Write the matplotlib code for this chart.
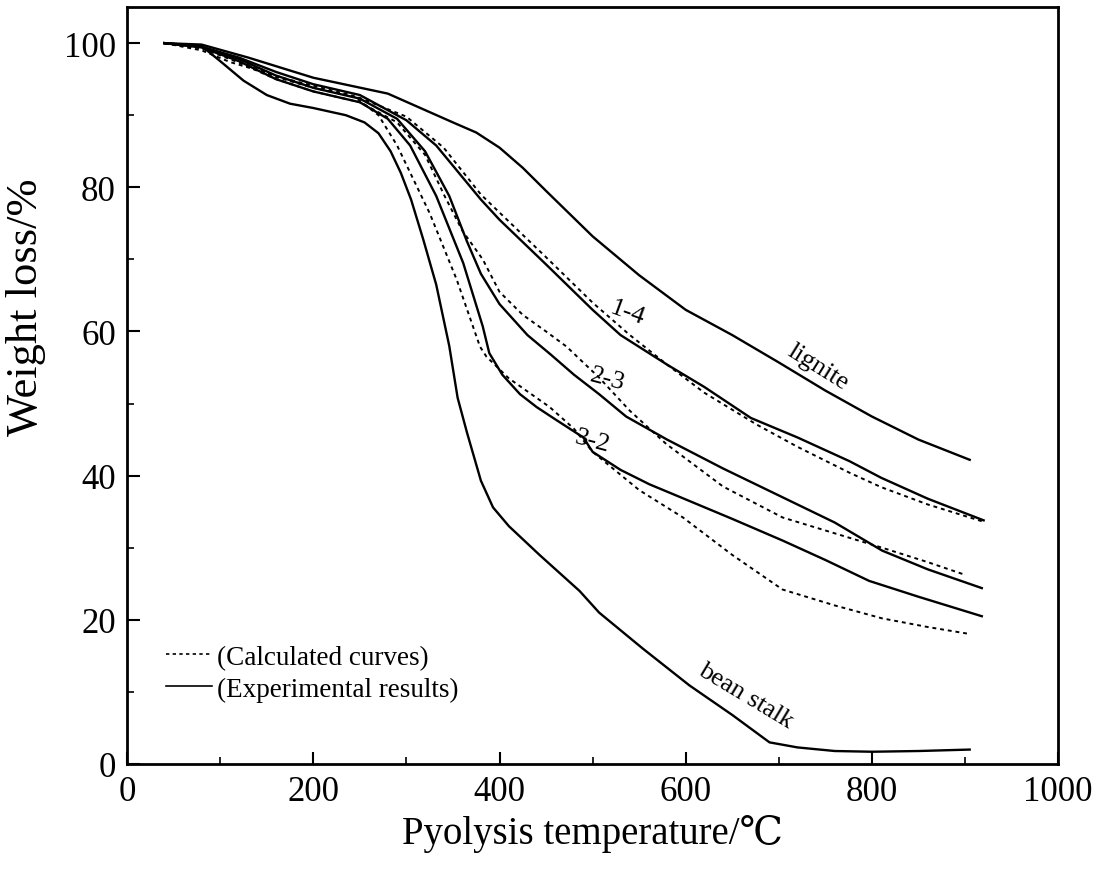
import numpy as np
import matplotlib
matplotlib.use('Agg')
import matplotlib.pyplot as plt
from matplotlib.lines import Line2D
from matplotlib.ticker import MultipleLocator

plt.rcParams['font.family'] = ['Liberation Serif', 'DejaVu Serif', 'DejaVu Sans']

# experimental (solid)
lignite_x = [40, 80, 130, 200, 280, 350, 375, 400, 425, 450, 500, 550, 600, 650, 700, 750, 800, 850, 905]
lignite_y = [100, 99.8, 98, 95.2, 93, 89, 87.6, 85.5, 82.7, 79.5, 73.2, 67.8, 63, 59.5, 55.7, 51.8, 48.2, 45, 42.2]

m14_x = [40, 80, 120, 160, 200, 250, 300, 332, 380, 400, 450, 500, 530, 580, 620, 670, 720, 776, 810, 860, 920]
m14_y = [100, 99.5, 98, 96, 94.3, 92.8, 89.3, 85.8, 78.3, 75.5, 69.3, 63, 59.5, 55.4, 52.3, 48, 45.3, 42, 39.7, 36.8, 33.8]

m23_x = [40, 80, 120, 160, 200, 250, 290, 320, 346, 365, 380, 400, 430, 455, 480, 507, 536, 580, 640, 704, 760, 811, 860, 918]
m23_y = [100, 99.5, 97.8, 95.5, 93.8, 92.3, 89.5, 85, 78.8, 72.5, 68, 63.8, 59.5, 56.8, 54, 51.3, 48.2, 45, 41, 37, 33.5, 29.6, 27, 24.4]

m32_x = [40, 80, 120, 160, 200, 250, 280, 304, 332, 361, 382, 389, 403, 422, 440, 460, 490, 500, 530, 561, 600, 650, 704, 750, 797, 850, 918]
m32_y = [100, 99.4, 97.5, 95, 93.3, 91.8, 89.5, 85.8, 78.8, 69.5, 60.7, 57, 54, 51.3, 49.5, 47.8, 45.3, 43.3, 40.8, 38.8, 36.7, 34, 31, 28.3, 25.4, 23.2, 20.5]

bean_x = [40, 80, 100, 125, 150, 175, 200, 235, 255, 270, 283, 294, 305, 318, 332, 346, 355, 365, 380, 393, 410, 443, 486, 507, 554, 604, 650, 690, 720, 760, 800, 850, 905]
bean_y = [100, 99.6, 97.5, 94.8, 92.8, 91.6, 91, 90, 89, 87.5, 85, 82, 78.3, 72.8, 66.5, 58, 50.8, 46, 39.3, 35.6, 33, 29, 24, 21, 16, 10.9, 6.8, 3, 2.3, 1.8, 1.7, 1.8, 2]

# calculated (dashed)
c14_x = [40, 80, 120, 160, 200, 250, 300, 340, 380, 400, 450, 500, 540, 580, 620, 676, 720, 776, 810, 860, 920]
c14_y = [100, 99.3, 97.5, 95.3, 93.8, 92.4, 89.8, 85.5, 79, 76.5, 70.3, 64, 59.5, 55.4, 51.5, 47.1, 44, 40.4, 38.4, 36, 33.6]

c23_x = [40, 80, 120, 160, 200, 250, 290, 320, 341, 360, 382, 400, 425, 450, 472, 507, 540, 579, 640, 704, 760, 811, 860, 901]
c23_y = [100, 99.3, 97.3, 95, 93.3, 91.8, 89, 84.5, 78.8, 74, 70, 65.5, 62.3, 60, 57.9, 53.6, 49, 44.4, 38.5, 34.2, 32, 30, 28, 26.2]

c32_x = [40, 80, 110, 172, 243, 270, 290, 325, 354, 379, 386, 410, 454, 480, 500, 550, 597, 650, 704, 760, 811, 860, 902]
c32_y = [100, 99, 97.4, 95, 92.7, 90, 85.8, 76.4, 67.2, 57.9, 56.5, 53.5, 49.5, 46.5, 43.3, 38, 34.2, 29, 24.2, 22, 20.2, 19, 18.1]

fig = plt.figure(figsize=(11.15, 8.7), dpi=100)
ax = fig.add_axes([0.114, 0.1207, 0.835, 0.87])

for xs, ys in [(lignite_x, lignite_y), (m14_x, m14_y), (m23_x, m23_y),
               (m32_x, m32_y), (bean_x, bean_y)]:
    ax.plot(xs, ys, color='black', lw=1.7)

for xs, ys in [(c14_x, c14_y), (c23_x, c23_y), (c32_x, c32_y)]:
    ax.plot(xs, ys, color='black', lw=1.4, dashes=(2, 2))

# curve labels
ax.text(537, 62.6, '1-4', fontsize=19, rotation=-20, ha='center', va='center')
ax.text(516, 53.4, '2-3', fontsize=19, rotation=-15, ha='center', va='center')
ax.text(500, 44.8, '3-2', fontsize=19, rotation=-15, ha='center', va='center')
ax.text(742, 55.2, 'lignite', fontsize=19, rotation=-32, ha='center', va='center')
ax.text(664, 9.6, 'bean stalk', fontsize=19, rotation=-31, ha='center', va='center')

handles = [Line2D([], [], color='black', lw=1.2, dashes=(2, 2)),
           Line2D([], [], color='black', lw=1.2)]
ax.legend(handles, ['(Calculated curves)', '(Experimental results)'],
          loc='lower left', bbox_to_anchor=(0.03, 0.068), frameon=False,
          fontsize=19.5, handlelength=1.7, handletextpad=0.2, labelspacing=0.25,
          borderaxespad=0)

ax.set_xlim(0, 1000)
ax.set_ylim(0, 105)
ax.xaxis.set_major_locator(MultipleLocator(200))
ax.xaxis.set_minor_locator(MultipleLocator(100))
ax.yaxis.set_major_locator(MultipleLocator(20))
ax.yaxis.set_minor_locator(MultipleLocator(10))
ax.tick_params(which='major', direction='in', length=9, width=1.5, labelsize=25, pad=8)
ax.tick_params(which='minor', direction='in', length=5, width=1.2)
for s in ax.spines.values():
    s.set_linewidth(2)

ax.set_xlabel('Pyolysis temperature/℃', fontsize=28, labelpad=4)
ax.set_ylabel('Weight loss/%', fontsize=32)
ax.yaxis.set_label_coords(-0.087, 0.605)

fig.savefig('out.png', dpi=100)
